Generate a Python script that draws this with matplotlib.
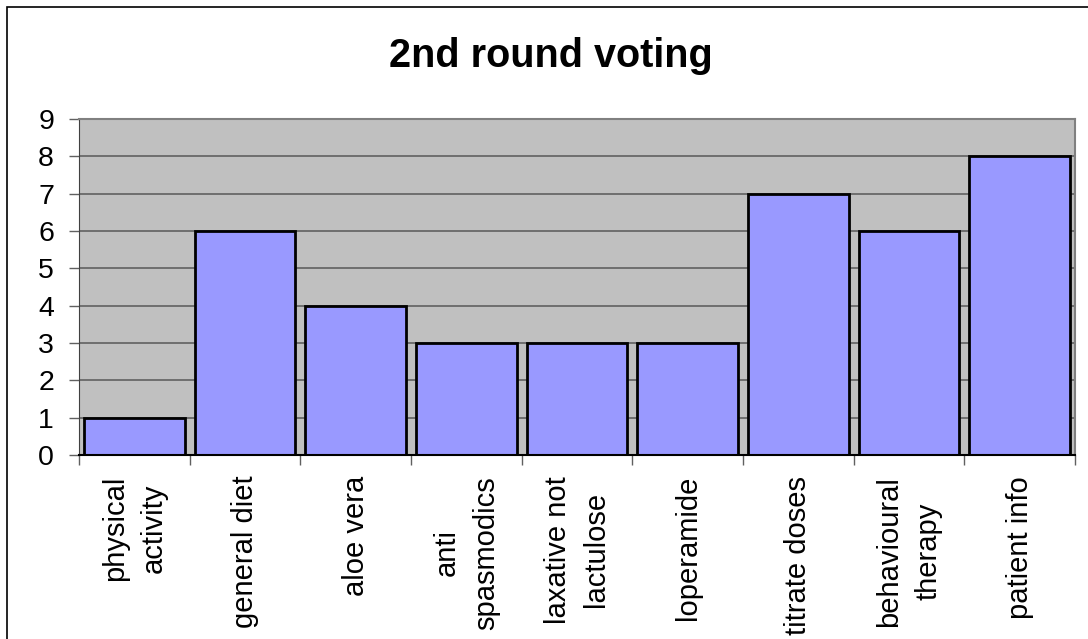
import numpy as np
import matplotlib.pyplot as plt
from matplotlib.patches import Rectangle

plt.rcParams['font.family'] = ['Liberation Sans', 'DejaVu Sans']

# datos
categorias = ["physical\nactivity", "general diet", "aloe vera", "anti\nspasmodics",
              "laxative not\nlactulose", "loperamide", "titrate doses",
              "behavioural\ntherapy", "patient info"]
votos = [1, 6, 4, 3, 3, 3, 7, 6, 8]

fig = plt.figure(figsize=(10.88, 6.39), dpi=100)
ax = fig.add_axes([79/1088, 1 - 455/639, (1075 - 79)/1088, (455 - 119)/639])

# marco exterior del gráfico
fig.patches.append(Rectangle((7/1088, -0.1), 1.2, 1 - 7/639 + 0.1,
                             transform=fig.transFigure, fill=False,
                             edgecolor='black', linewidth=1.2))

x = np.arange(len(votos))
ax.set_facecolor('#C0C0C0')
ax.bar(x, votos, width=0.91, color='#9999FF', edgecolor='black', linewidth=2, zorder=3)

ax.set_xlim(-0.5, len(votos) - 0.5)
ax.set_ylim(0, 9)
ax.set_yticks(range(10))
ax.yaxis.grid(True, color='#606060', linewidth=1.2, zorder=1)
ax.tick_params(axis='y', labelsize=20.5, length=7, width=1, color='#606060', pad=11)

ax.set_xticks(x)
ax.set_xticklabels(categorias, rotation=90, fontsize=21, va='top', ha='center',
                   multialignment='center', linespacing=1.5)
ax.set_xticks(np.arange(-0.5, len(votos)), minor=True)
ax.tick_params(axis='x', which='major', length=0, pad=15)
ax.tick_params(axis='x', which='minor', length=7, width=1, color='#606060')

for lado in ['top', 'right']:
    ax.spines[lado].set_color('#808080')
    ax.spines[lado].set_linewidth(1.5)
ax.spines['left'].set_color('#404040')
ax.spines['bottom'].set_color('black')
ax.spines['bottom'].set_linewidth(1.5)
ax.spines['bottom'].set_zorder(4)

fig.text(551/1088, 1 - 67/639, "2nd round voting", fontsize=28.5, fontweight='bold',
         ha='center', va='baseline')

fig.savefig("out.png", dpi=100)
